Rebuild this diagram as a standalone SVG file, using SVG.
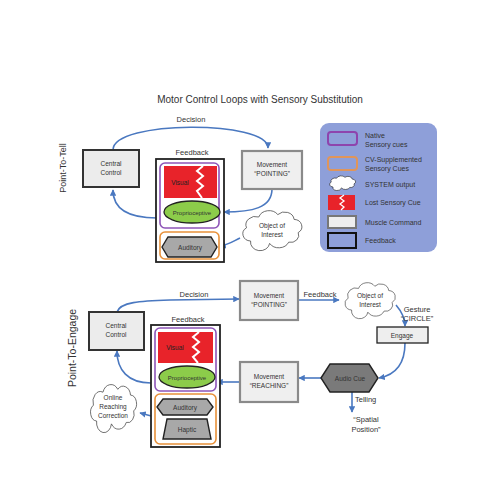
<svg xmlns="http://www.w3.org/2000/svg" width="500" height="500" viewBox="0 0 500 500">
<style>
text{font-family:"Liberation Sans",Arial,sans-serif;fill:#333;}
.t{font-size:6.5px;text-anchor:middle;}
.lbl{font-size:7.5px;text-anchor:middle;}
.leg{font-size:7px;}
.cc{fill:#ececec;stroke:#333;stroke-width:2;}
.mv{fill:#efefef;stroke:#8a8a8a;stroke-width:2.2;}
.fb{fill:#fff;stroke:#222;stroke-width:1.8;}
.nat{fill:#fff;stroke:#8e55b8;stroke-width:1.6;}
.cv{fill:#fff;stroke:#e8913a;stroke-width:1.6;}
.red{fill:#e8232a;}
.zz{fill:none;stroke:#fff;stroke-width:2;}
.prop{fill:#8ccc4a;stroke:#222;stroke-width:1.3;}
.hex{fill:#a8a8a8;stroke:#222;stroke-width:1.4;}
.cloud{fill:#fff;stroke:#444;stroke-width:1.2;}
.c{fill:none;stroke:#4a78c0;stroke-width:1.6;}
</style>
<defs>
<marker id="ah" viewBox="0 0 10 10" refX="9" refY="5" markerWidth="4" markerHeight="4" orient="auto">
<path d="M0,0 L10,5 L0,10 z" fill="#4a78c0"/>
</marker>
<path id="cloudp" d="M20,50 a12,12 0 0 1 -6,-22 a14,14 0 0 1 18,-18 a16,16 0 0 1 28,-4 a14,14 0 0 1 24,8 a12,12 0 0 1 6,22 a12,12 0 0 1 -14,16 a16,16 0 0 1 -28,2 a14,14 0 0 1 -28,-4 z"/>
</defs>
<rect width="500" height="500" fill="#fff"/>
<text x="260" y="103" style="font-size:10px;text-anchor:middle">Motor Control Loops with Sensory Substitution</text>
<text transform="translate(66,168) rotate(-90)" style="font-size:9px;text-anchor:middle">Point-To-Tell</text>
<text transform="translate(76,348) rotate(-90)" style="font-size:10.5px;text-anchor:middle">Point-To-Engage</text>

<g id="connectors">
<path class="c" d="M113,150 C113,120 268,120 268,148" marker-end="url(#ah)"/>
<path class="c" d="M272,189 C272,208 252,212 224,212" marker-end="url(#ah)"/>
<path class="c" d="M157,218 C130,218 113,210 113,190" marker-end="url(#ah)"/>
<path class="c" d="M240,238 C232,242 228,245 220,246" marker-end="url(#ah)"/>
<path class="c" d="M117,312 C120,302 140,301 170,300 L239,299" marker-end="url(#ah)"/>
<path class="c" d="M298,300 L339,300" marker-end="url(#ah)"/>
<path class="c" d="M396,305 C402,312 405,318 405,326" marker-end="url(#ah)"/>
<path class="c" d="M405,343 C405,365 395,375 379,378" marker-end="url(#ah)"/>
<path class="c" d="M321,378 L299,378" marker-end="url(#ah)"/>
<path class="c" d="M240,382 L217,382" marker-end="url(#ah)"/>
<path class="c" d="M352,392 L352,412" marker-end="url(#ah)"/>
<path class="c" d="M151,383 C128,383 117,370 117,351" marker-end="url(#ah)"/>
<path class="c" d="M155,417 L140,413" marker-end="url(#ah)"/>
</g>

<text class="lbl" x="191" y="122">Decision</text>
<text class="lbl" x="194" y="297">Decision</text>
<text class="lbl" x="320" y="297">Feedback</text>
<text class="lbl" x="417" y="312">Gesture</text>
<text class="lbl" x="417" y="321">“CIRCLE”</text>
<text class="lbl" x="355" y="402" style="text-anchor:start">Telling</text>
<text class="lbl" x="366" y="422">“Spatial</text>
<text class="lbl" x="366" y="432">Position”</text>

<g id="cc1"><rect class="cc" x="83" y="150" width="56" height="37"/><text class="t" x="111" y="166">Central</text><text class="t" x="111" y="175">Control</text></g>
<g id="mv1"><rect class="mv" x="242" y="151" width="60" height="38"/><text class="t" x="272" y="167">Movement</text><text class="t" x="272" y="176">“POINTING”</text></g>
<g id="fb1">
<text class="lbl" x="192" y="155">Feedback</text>
<rect class="fb" x="156" y="159" width="68" height="103"/>
<rect class="nat" x="160" y="163" width="59" height="65" rx="5"/>
<rect class="red" x="164" y="166" width="53" height="32"/>
<polyline class="zz" points="203,166 197,171 203,176 197,181 203,186 197,191 202,198"/>
<text class="t" x="180" y="185" style="fill:#222">Visual</text>
<ellipse class="prop" cx="192" cy="212" rx="28" ry="11"/>
<text class="t" x="192" y="215" style="font-size:6px">Proprioceptive</text>
<rect class="cv" x="160" y="232" width="59" height="27" rx="5"/>
<polygon class="hex" points="162,247 168,237 211,237 217,247 211,257 168,257"/>
<text class="t" x="190" y="250">Auditory</text>
</g>
<g id="obj1"><use href="#cloudp" class="cloud" vector-effect="non-scaling-stroke" transform="translate(237,211) scale(0.68,0.6)"/><text class="t" x="272" y="228">Object of</text><text class="t" x="272" y="237">Interest</text></g>

<g id="legend">
<rect x="320" y="123" width="117" height="129" rx="9" fill="#8e9fd9"/>
<rect x="328" y="132" width="29" height="13" rx="3" fill="none" stroke="#8e44ad" stroke-width="2"/>
<text class="leg" x="365" y="138">Native</text><text class="leg" x="365" y="147">Sensory cues</text>
<rect x="328" y="157" width="29" height="13" rx="3" fill="none" stroke="#e0955a" stroke-width="2"/>
<text class="leg" x="365" y="162">CV-Supplemented</text><text class="leg" x="365" y="171">Sensory Cues</text>
<use href="#cloudp" fill="#fff" stroke="#111" stroke-width="2.2" vector-effect="non-scaling-stroke" transform="translate(327,176) scale(0.3,0.22)"/>
<text class="leg" x="365" y="187">SYSTEM output</text>
<rect x="328" y="195" width="27" height="15" fill="#e8232a"/>
<polyline points="344,195 340,198 344,201 340,204 344,207 341,210" fill="none" stroke="#fff" stroke-width="1.3"/>
<text class="leg" x="365" y="205">Lost Sensory Cue</text>
<rect x="328" y="216" width="28" height="12" fill="#eee" stroke="#777" stroke-width="2"/>
<text class="leg" x="365" y="225">Muscle Command</text>
<rect x="328" y="233" width="28" height="15" fill="none" stroke="#111" stroke-width="2"/>
<text class="leg" x="365" y="243">Feedback</text>
</g>

<g id="cc2"><rect class="cc" x="89" y="312" width="55" height="38"/><text class="t" x="116" y="328">Central</text><text class="t" x="116" y="337">Control</text></g>
<g id="mv2"><rect class="mv" x="240" y="281" width="58" height="39"/><text class="t" x="269" y="298">Movement</text><text class="t" x="269" y="307">“POINTING”</text></g>
<g id="obj2"><use href="#cloudp" class="cloud" vector-effect="non-scaling-stroke" transform="translate(340,283) scale(0.58,0.54)"/><text class="t" x="370" y="298">Object of</text><text class="t" x="370" y="307">Interest</text></g>
<g id="engage"><rect x="377" y="327" width="51" height="16" fill="#eee" stroke="#222" stroke-width="1.3"/><text class="t" x="402" y="338">Engage</text></g>
<g id="audio"><polygon points="321,378 330,364 369,364 378,378 369,392 330,392" fill="#7a7a7a" stroke="#222" stroke-width="1.4"/><text class="t" x="350" y="381">Audio Cue</text></g>
<g id="mv3"><rect class="mv" x="240" y="362" width="58" height="40"/><text class="t" x="269" y="379">Movement</text><text class="t" x="269" y="388">“REACHING”</text></g>
<g id="fb2">
<text class="lbl" x="188" y="322">Feedback</text>
<rect class="fb" x="151" y="325" width="69" height="122"/>
<rect class="nat" x="155" y="328" width="61" height="63" rx="5"/>
<rect class="red" x="158" y="332" width="55" height="31"/>
<polyline class="zz" points="199,332 193,337 199,342 193,347 199,352 193,357 198,363"/>
<text class="t" x="175" y="350" style="fill:#222">Visual</text>
<ellipse class="prop" cx="187" cy="377" rx="28" ry="11"/>
<text class="t" x="187" y="380" style="font-size:6px">Proprioceptive</text>
<rect class="cv" x="155" y="394" width="61" height="50" rx="5"/>
<polygon class="hex" points="157,407 163,399 207,399 213,407 207,415 163,415"/>
<text class="t" x="185" y="410">Auditory</text>
<polygon class="hex" points="167,419 207,419 211,439 163,439"/>
<text class="t" x="187" y="432">Haptic</text>
</g>
<g id="online"><use href="#cloudp" class="cloud" vector-effect="non-scaling-stroke" transform="translate(86,385) scale(0.53,0.72)"/><text class="t" x="113" y="400">Online</text><text class="t" x="113" y="409">Reaching</text><text class="t" x="113" y="418">Correction</text></g>
</svg>
